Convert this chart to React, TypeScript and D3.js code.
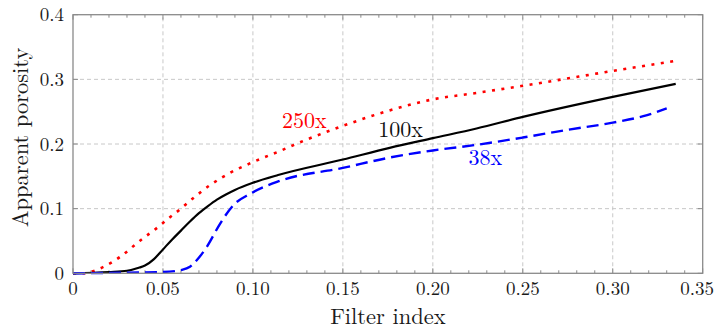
import React from "react";
import * as d3 from "d3";

const xTicks = [0, 0.05, 0.1, 0.15, 0.2, 0.25, 0.3, 0.35];
const xTickLabels = ["0", "0.05", "0.10", "0.15", "0.20", "0.25", "0.30", "0.35"];
const yTicks = [0, 0.1, 0.2, 0.3, 0.4];
const yTickLabels = ["0", "0.1", "0.2", "0.3", "0.4"];

const series250x: [number, number][] = [
  [0, 0], [0.006, 0], [0.0095, 0.002], [0.017, 0.01], [0.026, 0.025], [0.037, 0.05],
  [0.0475, 0.072], [0.054, 0.087], [0.06, 0.1], [0.065, 0.112], [0.076, 0.136],
  [0.087, 0.155], [0.1, 0.172], [0.114, 0.188], [0.13, 0.207], [0.15, 0.228],
  [0.176, 0.252], [0.2, 0.269], [0.2243, 0.279], [0.25, 0.29], [0.3, 0.313], [0.3337, 0.328],
];

const series100x: [number, number][] = [
  [0, 0], [0.02, 0.002], [0.03, 0.004], [0.037, 0.009], [0.04, 0.012], [0.045, 0.022],
  [0.05, 0.037], [0.055, 0.052], [0.06, 0.066], [0.065, 0.08], [0.07, 0.093],
  [0.075, 0.104], [0.08, 0.114], [0.085, 0.122], [0.09, 0.129], [0.1, 0.14],
  [0.114, 0.152], [0.15, 0.176], [0.176, 0.194], [0.2, 0.209], [0.2243, 0.224],
  [0.25, 0.242], [0.3, 0.273], [0.335, 0.293],
];

const series38x: [number, number][] = [
  [0, 0], [0.03, 0.001], [0.05, 0.002], [0.06, 0.005], [0.065, 0.01], [0.067, 0.015],
  [0.0744, 0.041], [0.0818, 0.077], [0.089, 0.105], [0.0985, 0.123], [0.114, 0.142],
  [0.15, 0.163], [0.176, 0.179], [0.2, 0.19], [0.225, 0.199], [0.25, 0.21],
  [0.275, 0.222], [0.3, 0.233], [0.317, 0.243], [0.33, 0.255],
];

const seriesLabels = ["250x", "100x", "38x"];
const labelAnchors: [number, number][] = [[0.1161, 0.224], [0.1696, 0.211], [0.2198, 0.1674]];

const W = 716;
const H = 329;
const margin = { left: 73, right: 13.3, top: 14.7, bottom: 55.7 };
const FONT =
  '"Latin Modern Roman", "CMU Serif", "Liberation Serif", "DejaVu Serif", "Noto Serif", Tinos, "Nimbus Roman", "Nimbus Roman No9 L", FreeSerif, "Times New Roman", Times, Georgia, serif';

export default function App() {
  const x = d3.scaleLinear().domain([0, 0.35]).range([margin.left, W - margin.right]);
  const y = d3.scaleLinear().domain([0, 0.4]).range([H - margin.bottom, margin.top]);
  const line = d3
    .line<[number, number]>()
    .x((d) => x(d[0]))
    .y((d) => y(d[1]))
    .curve(d3.curveMonotoneX);

  const x0 = x(0), x1 = x(0.35), y0 = y(0), y1 = y(0.4);
  const minor = d3.range(0, 36).map((i) => i / 100).filter((v) => Math.round(v * 100) % 5 !== 0);

  const frameColor = "#8a8a8a";
  const gridColor = "#c8c8c8";
  const textStyle = { fontFamily: FONT };

  const series = [
    { data: series250x, color: "#ff0000", dash: "3,6.5", width: 2.6 },
    { data: series100x, color: "#000000", dash: "", width: 2.2 },
    { data: series38x, color: "#0000ff", dash: "12,6", width: 2.4 },
  ];
  const labelColors = ["#ff0000", "#111111", "#0000ff"];

  return (
    <svg width={W} height={H} style={{ position: "absolute", left: 0, top: 0, background: "#fff" }}>
      {xTicks.slice(1, -1).map((t) => (
        <line key={"gx" + t} x1={x(t)} x2={x(t)} y1={y0} y2={y1} stroke={gridColor} strokeWidth={1} strokeDasharray="4,3" />
      ))}
      {yTicks.slice(1, -1).map((t) => (
        <line key={"gy" + t} x1={x0} x2={x1} y1={y(t)} y2={y(t)} stroke={gridColor} strokeWidth={1} strokeDasharray="4,3" />
      ))}
      {xTicks.map((t) => (
        <g key={"xt" + t}>
          <line x1={x(t)} x2={x(t)} y1={y0} y2={y0 - 5} stroke={frameColor} strokeWidth={1} />
          <line x1={x(t)} x2={x(t)} y1={y1} y2={y1 + 5} stroke={frameColor} strokeWidth={1} />
        </g>
      ))}
      {minor.map((t) => (
        <g key={"xm" + t}>
          <line x1={x(t)} x2={x(t)} y1={y0} y2={y0 - 3} stroke={frameColor} strokeWidth={1} />
          <line x1={x(t)} x2={x(t)} y1={y1} y2={y1 + 3} stroke={frameColor} strokeWidth={1} />
        </g>
      ))}
      {yTicks.map((t) => (
        <g key={"yt" + t}>
          <line x1={x0} x2={x0 + 5} y1={y(t)} y2={y(t)} stroke={frameColor} strokeWidth={1} />
          <line x1={x1} x2={x1 - 5} y1={y(t)} y2={y(t)} stroke={frameColor} strokeWidth={1} />
        </g>
      ))}
      {series.map((s, i) => (
        <path key={"s" + i} d={line(s.data) || ""} fill="none" stroke={s.color} strokeWidth={s.width}
          strokeDasharray={s.dash || undefined} strokeLinecap="butt" />
      ))}
      <rect x={x0} y={y1} width={x1 - x0} height={y0 - y1} fill="none" stroke={frameColor} strokeWidth={1.3} />
      {xTicks.map((t, i) => {
        const last = i === xTicks.length - 1;
        return (
          <text key={"xl" + t} x={last ? W - 2 : x(t)} y={y0 + 21.8} textAnchor={last ? "end" : "middle"}
            style={textStyle} fontSize={19} fill="#1a1a1a">
            {xTickLabels[i]}
          </text>
        );
      })}
      {yTicks.map((t, i) => (
        <text key={"yl" + t} x={x0 - 9} y={y(t) + 6.5} textAnchor="end" style={textStyle} fontSize={19} fill="#1a1a1a">
          {yTickLabels[i]}
        </text>
      ))}
      <text x={(x0 + x1) / 2} y={323.5} textAnchor="middle" style={textStyle} fontSize={22.5} fill="#1a1a1a">
        Filter index
      </text>
      <text transform={`translate(28,137.5) rotate(-90)`} textAnchor="middle" style={textStyle} fontSize={22.5} fill="#1a1a1a">
        Apparent porosity
      </text>
      {seriesLabels.map((l, i) => (
        <text key={"lab" + i} x={x(labelAnchors[i][0])} y={y(labelAnchors[i][1])} style={textStyle} fontSize={22} fill={labelColors[i]}>
          {l}
        </text>
      ))}
    </svg>
  );
}
